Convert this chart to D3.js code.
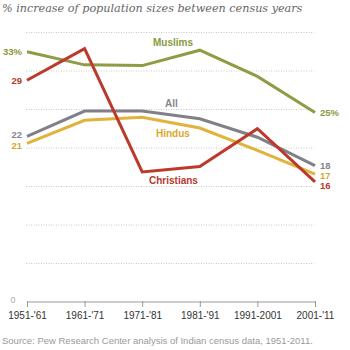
<!DOCTYPE html>
<html><head><meta charset="utf-8">
<script src="https://cdn.jsdelivr.net/npm/d3@7"></script>
<style>body{margin:0;background:#fff}svg{display:block}</style>
</head><body>
<script>
const periods = ["1951-'61","1961-'71","1971-'81","1981-'91","1991-2001","2001-'11"];
const muslims = [32.5, 30.8, 30.7, 32.7, 29.3, 24.6];
const christians = [28.8, 32.9, 16.9, 17.6, 22.5, 15.6];
const all = [21.5, 24.8, 24.8, 23.8, 21.4, 17.7];
const hindus = [20.6, 23.6, 24.0, 22.6, 19.7, 16.6];
const gridTicks = [5,10,15,20,25,30,35];

const W=350,H=350;
const svg=d3.select("body").append("svg").attr("width",W).attr("height",H);
const x=d3.scalePoint().domain(periods).range([27,315]);
const y=d3.scaleLinear().domain([0,35]).range([302,32.5]);

svg.append("text").attr("x",2).attr("y",12).attr("font-family","DejaVu Serif, Liberation Serif, serif")
  .attr("font-style","italic").attr("font-size",11.2).attr("fill","#666")
  .text("% increase of population sizes between census years");

svg.append("g").selectAll("line").data(gridTicks).join("line")
  .attr("x1",26).attr("x2",314).attr("y1",d=>y(d)).attr("y2",d=>y(d))
  .attr("stroke","#c8c8c8").attr("stroke-width",1).attr("stroke-dasharray","1,1.5");

const ax=svg.append("g").attr("transform",`translate(0,${y(0)})`)
  .call(d3.axisBottom(x).tickSize(5).tickSizeOuter(0));
ax.select(".domain").attr("stroke","#999").attr("d",`M${x(periods[0])},0H${x(periods[5])}`);
ax.selectAll(".tick line").attr("stroke","#999").attr("y1",-1).attr("y2",5);
ax.selectAll(".tick text").attr("font-family","Liberation Sans, Arial, sans-serif").attr("font-size",10)
  .attr("fill","#333").attr("dy","0").attr("y",17);

svg.append("text").attr("x",13).attr("y",y(0)+1).attr("text-anchor","middle")
  .attr("font-family","Liberation Sans, Arial, sans-serif").attr("font-size",9).attr("fill","#aaa").text("0");

const series=[
 {name:"Muslims",vals:muslims,color:"#8e9c45",tc:"#879a3e",lx:153,ly:46,left:"33%",ly0:55,right:"25%",ry:116},
 {name:"All",vals:all,color:"#818088",tc:"#858590",lx:165,ly:107,left:"22",ly0:138,right:"18",ry:168.5},
 {name:"Hindus",vals:hindus,color:"#e1b33a",tc:"#d6a92d",lx:156,ly:137,left:"21",ly0:148.5,right:"17",ry:178.5},
 {name:"Christians",vals:christians,color:"#bb3a2b",tc:"#b53a2c",lx:149,ly:184,left:"29",ly0:84,right:"16",ry:188.5}
];
const line=d3.line().x((d,i)=>x(periods[i])).y(d=>y(d));
series.forEach(s=>{
  svg.append("path").datum(s.vals).attr("d",line).attr("fill","none")
    .attr("stroke",s.color).attr("stroke-width",3).attr("stroke-linejoin","miter");
});
series.forEach(s=>{
  const f="Liberation Sans, Arial, sans-serif";
  svg.append("text").attr("x",s.lx).attr("y",s.ly).attr("font-family",f).attr("font-weight","bold")
    .attr("font-size",10).attr("fill",s.tc).text(s.name);
  svg.append("text").attr("x",22).attr("y",s.ly0).attr("text-anchor","end").attr("font-family",f)
    .attr("font-weight","bold").attr("font-size",9.5).attr("fill",s.tc).text(s.left);
  svg.append("text").attr("x",320).attr("y",s.ry).attr("font-family",f)
    .attr("font-weight","bold").attr("font-size",9.5).attr("fill",s.tc).text(s.right);
});

svg.append("text").attr("x",2).attr("y",344).attr("font-family","Liberation Sans, Arial, sans-serif")
  .attr("font-size",9.5).attr("fill","#999")
  .text("Source: Pew Research Center analysis of Indian census data, 1951-2011.");
</script>
</body></html>
